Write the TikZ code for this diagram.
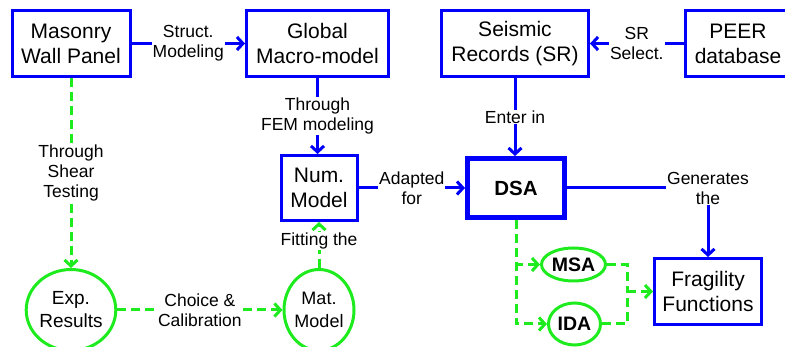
\documentclass[tikz,border=0pt]{standalone}
\usepackage{fontspec}
\setmainfont{Liberation Sans}
\usepackage{tikz}
\usetikzlibrary{arrows.meta, calc, shapes.geometric}
\usepackage{xcolor}
\definecolor{flow-blue}{RGB}{0,0,250}
\definecolor{flow-green}{RGB}{30,235,30}

\begin{document}
\begin{tikzpicture}[x=1pt, y=-1pt,
		box/.style={draw=flow-blue, line width=3pt, align=center, inner sep=0pt, font=\fontsize{21}{25}\selectfont},
		res/.style={ellipse, draw=flow-green, line width=3pt, align=center, inner sep=0pt, font=\fontsize{19}{23}\selectfont},
		lbl/.style={fill=white, align=center, inner sep=1pt, font=\fontsize{17.5}{20}\selectfont},
		blueflow/.style={draw=flow-blue, line width=3pt, -{Straight Barb[length=6pt, width=13pt]}},
		greendash/.style={draw=flow-green, line width=3pt, dash pattern=on 9pt off 5pt},
		greenflow/.style={greendash, -{Straight Barb[length=6pt, width=13pt]}}]
					\useasboundingbox (0,0) rectangle (785,347);
					\clip (0,0) rectangle (785,347);
					
					\node[box, minimum width=118, minimum height=66] at (71,43.5) (wall) {Masonry\\Wall Panel};
					\node[box, minimum width=142, minimum height=66] at (317.5,43.5) (macro) {Global\\Macro-model};
					\node[box, minimum width=147, minimum height=66] at (515,43.5) (records) {Seismic\\Records (SR)};
					\node[box, minimum width=106, minimum height=66] at (738,43.5) (peer) {PEER\\database};
					\node[box, minimum width=76, minimum height=65] at (319,188) (num) {Num.\\Model};
					\node[box, line width=5pt, minimum width=97, minimum height=59, font=\bfseries\fontsize{20.5}{25}\selectfont] at (516,188) (dsa) {DSA};
					\node[box, minimum width=107, minimum height=66] at (708,291.5) (frag) {Fragility\\Functions};
					
					\node[res, minimum width=87, minimum height=81] at (71,310) (exp) {Exp.\\Results};
					\node[res, minimum width=70, minimum height=81, font=\fontsize{18}{23}\selectfont] at (319,310) (mat) {Mat.\\Model};
					\node[res, minimum width=64, minimum height=33, font=\bfseries\fontsize{19.5}{22}\selectfont] at (573.5,264.5) (msa) {MSA};
					\node[res, minimum width=52, minimum height=42, font=\bfseries\fontsize{19.5}{22}\selectfont] at (574.5,324) (ida) {IDA};
					
					\draw[blueflow] (wall) -- node[lbl] {Struct.\\Modeling} (macro);
					\draw[blueflow] (macro.south) -- node[lbl] {Through\\FEM modeling} (macro.south |- num.north);
					\draw[blueflow] (peer) -- node[lbl] {SR\\Select.} (records);
					\draw[blueflow] (records.south) -- node[lbl] {Enter in} (records.south |- dsa.north);
					\draw[blueflow] (num) -- node[lbl] {Adapted\\for} (dsa);
					\draw[blueflow] (dsa) -| node[lbl] {Generates\\the} (frag);
					
					\draw[greenflow] (wall) -- node[lbl] {Through\\Shear\\Testing} (exp);
					\draw[greenflow] (exp) -- node[lbl] {Choice \&\\Calibration} (mat);
					\draw[greenflow] (mat) -- node[lbl, pos=0.58] {Fitting the} (num);
					
					\draw[greenflow] (dsa.south) |- (msa.west);
					\draw[greenflow] (dsa.south) |- (ida.west);
					\coordinate (merge) at (627,291.5);
					\draw[greendash] (msa.east) -| (merge);
					\draw[greendash] (ida.east) -| (merge);
					\draw[greenflow] (merge) -- (frag.west);
				\end{tikzpicture}
\end{document}
